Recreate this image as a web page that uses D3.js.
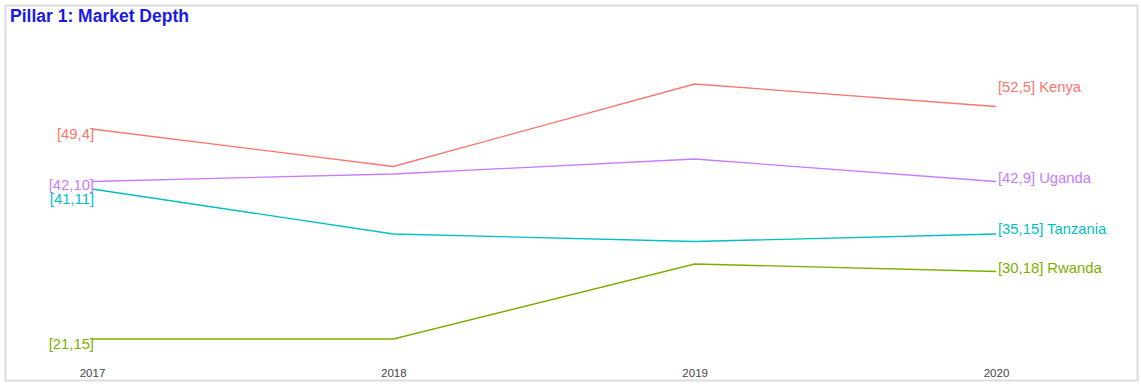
<!DOCTYPE html>
<html><head><meta charset="utf-8">
<script src="https://cdn.jsdelivr.net/npm/d3@7"></script>
<style>body{margin:0;background:#fff}svg{display:block}</style>
</head><body><div id="chart"></div>
<script>
const years = ["2017","2018","2019","2020"];
const countries = ["Kenya","Uganda","Tanzania","Rwanda"];
const kenya = [49,44,55,52];
const uganda = [42,43,45,42];
const tanzania = [41,35,34,35];
const rwanda = [21,21,31,30];
const startRanks = [4,10,11,15];
const endRanks = [5,9,15,18];
const startLabels = ["49","42","41","21"];
const endLabels = ["52","42","35","30"];
const colors = ["#F8766D","#C77CFF","#00BFC4","#7CAE00"];
const seriesVals = [kenya,uganda,tanzania,rwanda];

const W=1141,H=384;
const svg=d3.select("#chart").append("svg").attr("width",W).attr("height",H)
  .style("font-family","'Liberation Sans',Arial,sans-serif");
svg.append("rect").attr("x",5.5).attr("y",5.5).attr("width",W-9).attr("height",H-9)
  .attr("fill","#fff").attr("stroke","#dcdcdc").attr("stroke-width",2);
svg.append("text").attr("x",10).attr("y",22).attr("fill","#1a1ae6")
  .attr("font-size",17.5).attr("font-weight","bold").text("Pillar 1: Market Depth");

const x=d3.scalePoint().domain(years).range([92,996]);
const y=d3.scaleLinear().domain([21,49]).range([339,129]);

const line=d3.line().x((d,i)=>x(years[i])).y(d=>y(d));
seriesVals.forEach((vals,k)=>{
  svg.append("path").datum(vals).attr("d",line).attr("fill","none")
    .attr("stroke",colors[k]).attr("stroke-width",1.3);
});
// start labels
const startOffsets=[5,3,10,5];
seriesVals.forEach((vals,k)=>{
  svg.append("text").attr("x",x(years[0])+2).attr("y",y(vals[0])+startOffsets[k])
    .attr("dy","0.35em").attr("text-anchor","end").attr("fill",colors[k])
    .attr("font-size",14.8).text("["+startLabels[k]+","+startRanks[k]+"]");
});
// end labels
const endOffsets=[-20,-4,-5,-4];
seriesVals.forEach((vals,k)=>{
  svg.append("text").attr("x",x(years[3])+2).attr("y",y(vals[3])+endOffsets[k])
    .attr("dy","0.35em").attr("text-anchor","start").attr("fill",colors[k])
    .attr("font-size",14.8).text("["+endLabels[k]+","+endRanks[k]+"] "+countries[k]);
});
// x axis
const ax=svg.append("g").attr("transform","translate(0,365)")
  .call(d3.axisBottom(x).tickSize(0).tickPadding(4));
ax.select(".domain").remove();
ax.selectAll("text").attr("font-size",11.5).attr("fill","#444")
  .style("font-family","'Liberation Sans',Arial,sans-serif");
</script></body></html>
